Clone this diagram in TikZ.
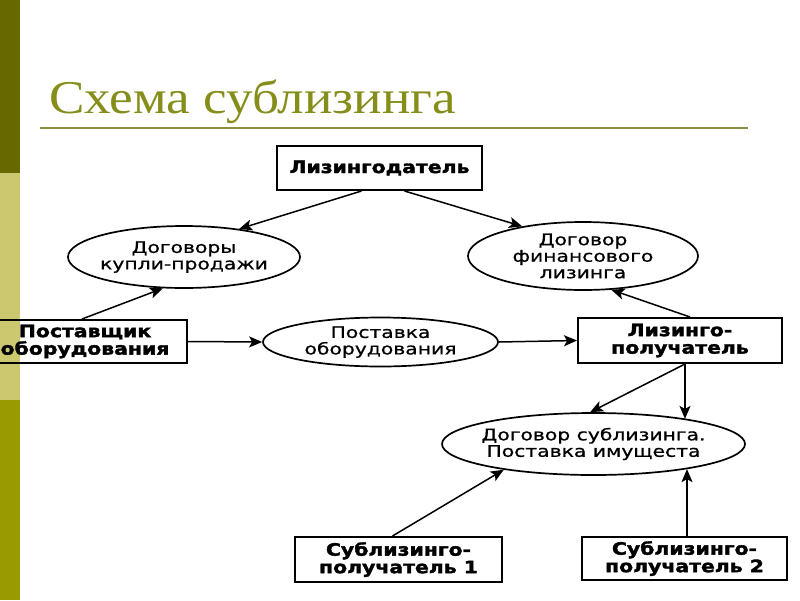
\documentclass[tikz,border=0pt]{standalone}
\usepackage{fontspec}
\usetikzlibrary{shapes.geometric,arrows.meta}
\setmainfont{Liberation Serif}
\newfontfamily\titlefont[FakeStretch=1.13]{Liberation Serif}
\newfontfamily\boxfont[FakeStretch=1.2,FakeBold=2]{DejaVu Sans Bold}
\newfontfamily\ellfont[FakeStretch=1.27,FakeBold=0.8]{DejaVu Sans}
\definecolor{bardark}{RGB}{104,104,0}
\definecolor{barlight}{RGB}{204,200,112}
\definecolor{barolive}{RGB}{153,153,0}
\definecolor{titlecol}{RGB}{134,142,26}
\definecolor{rulecol}{RGB}{140,144,60}
\tikzset{
  boxnode/.style={draw, line width=2pt, inner sep=0pt, align=center,
    font=\boxfont\fontsize{17}{17.5}\selectfont},
  ellnode/.style={draw, ellipse, line width=1.7pt, inner xsep=-30pt, inner ysep=-8pt, align=center,
    font=\ellfont\fontsize{16}{16.5}\selectfont},
  arr/.style={line width=1.5pt, -{Stealth[length=13pt,width=11pt,inset=3pt]}},
}
\begin{document}
\begin{tikzpicture}[x=1pt,y=-1pt]
\useasboundingbox (0,0) rectangle (800,600);
\fill[white] (0,0) rectangle (800,600);
% left bar
\fill[bardark] (0,0) rectangle (20,173);
\fill[barlight] (0,173) rectangle (20,400);
\fill[barolive] (0,400) rectangle (20,600);
% title
\node[anchor=base west, inner sep=0pt, text=titlecol,
  font=\titlefont\fontsize{47}{50}\selectfont] (title) at (49,113) {Схема сублизинга};
\draw[rulecol, line width=2.2pt] (40,128) -- (748,128);
% nodes
\node[boxnode, minimum width=205pt, minimum height=44pt] (ld) at (379.5,168) {Лизингодатель};
\node[ellnode, minimum width=232pt, minimum height=62pt] (dkp) at (184,257) {Договоры\\купли-продажи};
\node[ellnode, minimum width=230pt, minimum height=68pt] (dfl) at (583,256) {Договор\\финансового\\лизинга};
\begin{scope}
\clip (0,0) rectangle (800,600);
\node[boxnode, minimum width=204pt, minimum height=43pt] (po) at (85,341.5) {Поставщик\\оборудования};
\end{scope}
\node[ellnode, minimum width=235pt, minimum height=49pt] (pob) at (380.5,342) {Поставка\\оборудования};
\node[boxnode, minimum width=204pt, minimum height=45pt] (lp) at (680,340.5) {Лизинго-\\получатель};
\node[ellnode, minimum width=303pt, minimum height=62pt] (dsl) at (593.5,444) {Договор сублизинга.\\Поставка имущеста};
\node[boxnode, minimum width=207pt, minimum height=45pt] (sp1) at (398.5,559.5) {Сублизинго-\\получатель 1};
\node[boxnode, minimum width=205pt, minimum height=43pt] (sp2) at (684.5,558.5) {Сублизинго-\\получатель 2};
% connectors
\draw[arr] ([xshift=-18pt]ld.south) -- (dkp.27);
\draw[arr] ([xshift=25pt]ld.south) -- (dfl.154);
\draw[arr] ([xshift=-3pt]po.north) -- (dkp.236);
\draw[arr] (po.east) -- (pob.west);
\draw[arr] (pob.east) -- (lp.west);
\draw[arr] ([xshift=10pt]lp.north) -- (dfl.310);
\draw[arr] ([xshift=5pt]lp.south) -- (dsl.96);
\draw[arr] ([xshift=5pt]lp.south) -- ([xshift=5pt]lp.south |- dsl.15);
\draw[arr] ([xshift=-6pt]sp1.north) -- (dsl.196);
\draw[arr] ([xshift=2.5pt]sp2.north) -- ([xshift=2.5pt]sp2.north |- dsl.345);
\end{tikzpicture}
\end{document}
